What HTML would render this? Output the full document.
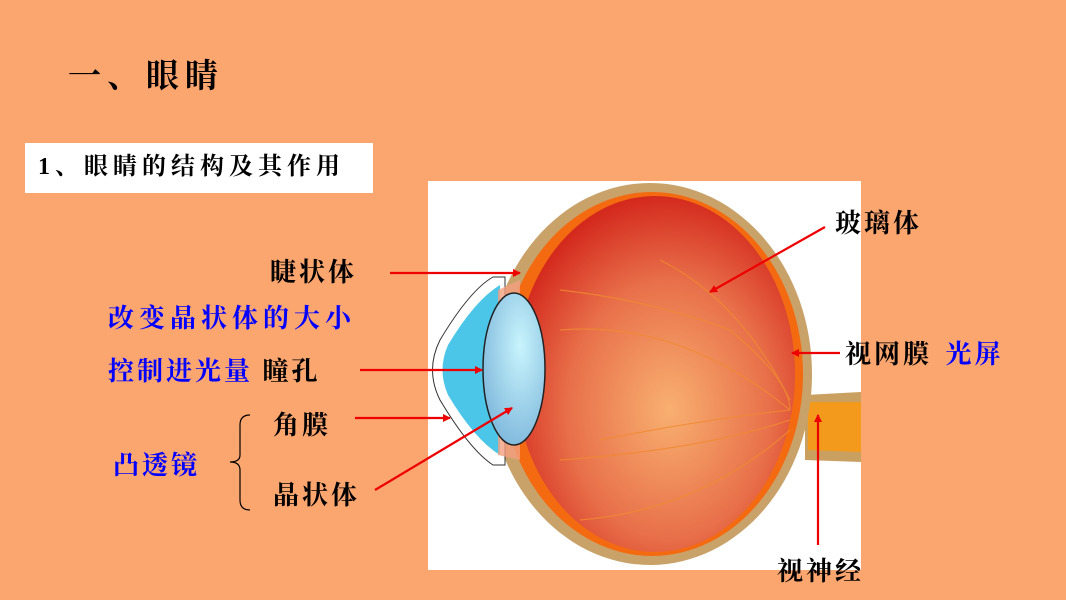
<!DOCTYPE html>
<html><head><meta charset="utf-8"><style>
body{margin:0;width:1066px;height:600px;background:#FBA56F;position:relative;overflow:hidden;font-family:"Liberation Serif","Noto Serif CJK SC",serif;}
.t{position:absolute;white-space:nowrap;font-size:26px;color:#000;line-height:1;letter-spacing:3px;font-weight:bold;}
.b{color:#0000FF;}
</style></head><body>
<div class="t" style="left:68px;top:61px;font-size:33px;letter-spacing:6px;">一、眼睛</div>
<div style="position:absolute;left:25px;top:143px;width:348px;height:50px;background:#fff;"></div>
<div class="t" style="left:38px;top:155px;font-size:24px;letter-spacing:5px;">1、眼睛的结构及其作用</div>
<svg width="1066" height="600" style="position:absolute;left:0;top:0">
<defs>
<radialGradient id="rg" cx="0.55" cy="0.6" r="0.6"><stop offset="0" stop-color="#F8B070"/><stop offset="0.6" stop-color="#E8704A"/><stop offset="1" stop-color="#D42A1E"/></radialGradient>
<radialGradient id="lg" cx="0.6" cy="0.35" r="0.7"><stop offset="0" stop-color="#C8F4FC"/><stop offset="1" stop-color="#7FB8DC"/></radialGradient>
<marker id="a" markerWidth="8" markerHeight="8" refX="7" refY="4" orient="auto" markerUnits="userSpaceOnUse"><path d="M0,0 L8,4 L0,8z" fill="#E00"/></marker>
</defs>
<rect x="428" y="181" width="433" height="389" fill="#fff"/>
<path d="M805,395 L861,392 L861,462 L805,460 Z" fill="#C9A060"/>
<path d="M808,402 L861,402 L861,452 L808,450 Z" fill="#F39A1C"/>
<ellipse cx="650" cy="374" rx="162" ry="191" fill="#C9A26A"/>
<ellipse cx="652" cy="374" rx="151" ry="182" fill="#F46A10"/>
<ellipse cx="655" cy="374" rx="140" ry="178" fill="url(#rg)"/>
<path d="M493,277 Q470,290 440,340 Q425,370 440,400 Q470,450 493,465 L505,465 L505,277Z" fill="#fff" stroke="#333" stroke-width="1"/>
<path d="M500,285 Q475,300 448,345 Q437,370 448,395 Q475,440 500,455 Z" fill="#4CC6E8"/>
<path d="M498,290 L520,280 L520,460 L498,455Z" fill="#F4A080" opacity="0.8"/>
<ellipse cx="514" cy="369" rx="31" ry="76" fill="url(#lg)" stroke="#222" stroke-width="1.5"/>
<g stroke="#F08A30" stroke-width="1.2" fill="none" opacity="0.8">
<path d="M560,290 Q650,300 730,330 Q790,380 790,410"/><path d="M560,330 Q680,320 790,410"/><path d="M600,440 Q700,420 790,410"/><path d="M560,460 Q700,450 790,420"/><path d="M580,520 Q700,510 790,430"/><path d="M660,260 Q740,300 790,400"/>
</g>
<g stroke="#E00" stroke-width="2.2" marker-end="url(#a)">
<line x1="390" y1="273" x2="520" y2="273"/>
<line x1="360" y1="370" x2="482" y2="370"/>
<line x1="355" y1="418" x2="450" y2="418"/>
<line x1="375" y1="490" x2="512" y2="408"/>
<line x1="825" y1="227" x2="710" y2="292"/>
<line x1="840" y1="353" x2="792" y2="353"/>
<line x1="818" y1="545" x2="818" y2="415"/>
</g>
<path d="M250,415 Q240,415 240,425 L240,455 Q240,462 230,462 Q240,462 240,470 L240,500 Q240,510 250,510" fill="none" stroke="#000" stroke-width="1.2"/>
</svg>
<div class="t" style="left:270px;top:260px;">睫状体</div>
<div class="t b" style="left:108px;top:306px;letter-spacing:5px;">改变晶状体的大小</div>
<div class="t" style="left:108px;top:359px;"><span class="b">控制进光量</span> 瞳孔</div>
<div class="t" style="left:273px;top:413px;">角膜</div>
<div class="t b" style="left:113px;top:453px;">凸透镜</div>
<div class="t" style="left:273px;top:483px;">晶状体</div>
<div class="t" style="left:835px;top:211px;">玻璃体</div>
<div class="t" style="left:845px;top:342px;">视网膜 <span class="b" style="margin-left:4px">光屏</span></div>
<div class="t" style="left:777px;top:559px;">视神经</div>
</body></html>
